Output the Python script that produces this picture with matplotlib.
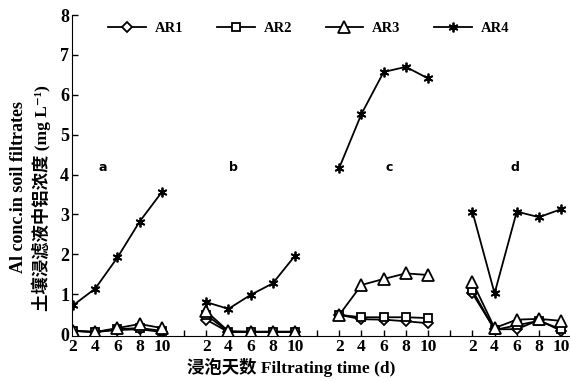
import matplotlib.pyplot as plt

# days within each soil group, groups placed 12 days apart on one axis
days = [2, 4, 6, 8, 10]
group_offset = 12
groups = ['a', 'b', 'c', 'd']

# Al concentration (mg/L) per series, group a..d concatenated
ar1 = [0.08, 0.05, 0.10, 0.12, 0.05,
       0.36, 0.05, 0.05, 0.05, 0.05,
       0.48, 0.37, 0.36, 0.32, 0.27,
       1.02, 0.12, 0.12, 0.35, 0.08]
ar2 = [0.08, 0.05, 0.12, 0.15, 0.08,
       0.48, 0.06, 0.05, 0.05, 0.05,
       0.48, 0.42, 0.42, 0.42, 0.40,
       1.10, 0.10, 0.22, 0.33, 0.12]
ar3 = [0.08, 0.05, 0.15, 0.25, 0.15,
       0.57, 0.07, 0.06, 0.06, 0.06,
       0.48, 1.23, 1.38, 1.52, 1.48,
       1.31, 0.15, 0.36, 0.38, 0.33]
ar4 = [0.72, 1.14, 1.92, 2.82, 3.56,
       0.80, 0.63, 0.98, 1.27, 1.96,
       4.17, 5.52, 6.57, 6.70, 6.41,
       3.07, 1.02, 3.07, 2.93, 3.13]

series = [('AR1', ar1, 'D', 5.5), ('AR2', ar2, 's', 5.5),
          ('AR3', ar3, '^', 8), ('AR4', ar4, (6, 2, 0), 7)]

serif = ['Liberation Serif', 'Noto Sans CJK SC', 'DejaVu Serif']

fig = plt.figure(figsize=(5.7, 3.81), dpi=100)
ax = fig.add_axes([72 / 570, 1 - 336 / 381, 1 - 72 / 570, (336 - 15) / 381])

handles = []
for name, vals, mk, ms in series:
    for g in range(4):
        xs = [d + g * group_offset for d in days]
        ys = vals[g * 5:(g + 1) * 5]
        ln, = ax.plot(xs, ys, color='black', lw=1.3, marker=mk, ms=ms,
                      mfc='white', mec='black', mew=1.3)
        if g == 0:
            ln.set_label(name)
            handles.append(ln)

# group letters
letter_x = [4.7, 16.5, 30.5, 41.8]
for lx, lab in zip(letter_x, groups):
    ax.text(lx, 4.18, lab, fontsize=9, fontweight='bold', ha='center', va='center',
            family='DejaVu Sans')

ax.set_xlim(1.9, 46.8)
ax.set_ylim(-0.05, 8)
ax.set_yticks(range(0, 9))
ax.set_yticklabels([str(i) for i in range(0, 9)], fontsize=13, fontweight='bold', family=serif)

ticks = list(range(2, 47, 2))
ax.set_xticks(ticks)
labels = []
for t in ticks:
    r = (t - 2) % group_offset
    labels.append(str(r + 2) if r <= 8 else '')
ax.set_xticklabels(labels, fontsize=12.5, fontweight='bold', family=serif)
ax.tick_params(direction='in', length=4, width=1, pad=2)

ax.spines['top'].set_visible(False)
ax.spines['right'].set_visible(False)
ax.spines['left'].set_bounds(-0.05, 8)

leg = ax.legend(handles=handles, ncol=4, frameon=False, loc='center left',
                bbox_to_anchor=(95 / 570, 1 - 28 / 381), bbox_transform=fig.transFigure,
                handlelength=2.6, handletextpad=0.6, columnspacing=2.3,
                prop={'family': serif, 'weight': 'bold', 'size': 10.5})

fig.text(0.032, 0.51, 'Al conc.in soil filtrates', rotation=90, ha='center', va='center',
         fontsize=13, fontweight='bold', family=serif)
fig.text(0.072, 0.48, '土壤浸滤液中铝浓度 (mg L⁻¹)', rotation=90, ha='center',
         va='center', fontsize=12.5, fontweight='bold', family=serif)
fig.text(0.51, 0.036, '浸泡天数 Filtrating time (d)', ha='center', va='center',
         fontsize=12.5, fontweight='bold', family=serif)

fig.savefig('out.png', dpi=100)
